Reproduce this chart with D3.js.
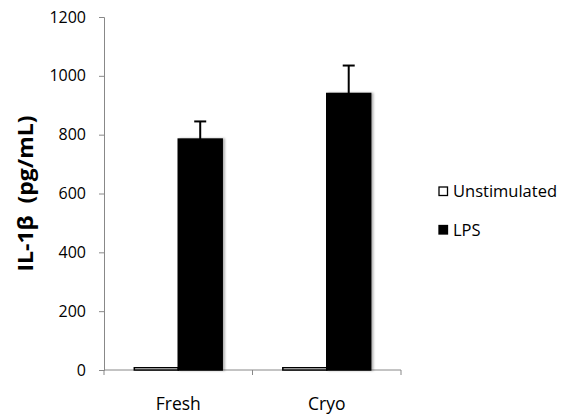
<!DOCTYPE html>
<html><head><meta charset="utf-8">
<script src="https://cdn.jsdelivr.net/npm/d3@7"></script>
<style>body{margin:0;background:#fff}svg{display:block}</style>
</head><body>
<div id="chart"></div>
<script>
const categories = ["Fresh", "Cryo"];
const seriesNames = ["Unstimulated", "LPS"];
const unstimulated = [8, 8];
const lps = [785, 940];
const lpsErr = [60, 95];
const unstimErr = [0, 0];
const yTicks = [0, 200, 400, 600, 800, 1000, 1200];

const W = 566, H = 420;
const m = {left: 104, top: 17, right: 165, bottom: 50};
const svg = d3.select("#chart").append("svg").attr("width", W).attr("height", H);
const font = "'Open Sans', 'Liberation Sans', sans-serif";

const x = d3.scaleBand().domain(categories).range([m.left, W - m.right]).paddingInner(0).paddingOuter(0);
const x1 = d3.scaleBand().domain(seriesNames).range([0, x.bandwidth()]).paddingInner(0).paddingOuter(0.69);
const y = d3.scaleLinear().domain([0, 1200]).range([H - m.bottom, m.top]);

const defs = svg.append("defs");
const f = defs.append("filter").attr("id", "sh").attr("x", "-20%").attr("y", "-20%").attr("width", "140%").attr("height", "140%");
f.append("feDropShadow").attr("dx", 2).attr("dy", 0).attr("stdDeviation", 1.2).attr("flood-color", "#000").attr("flood-opacity", 0.3);

// Y axis
const yAxis = svg.append("g").attr("transform", `translate(${m.left},0)`)
  .call(d3.axisLeft(y).tickValues(yTicks).tickFormat(d3.format("d")).tickSize(5).tickPadding(13));
yAxis.select(".domain").attr("stroke", "#888");
yAxis.selectAll(".tick line").attr("stroke", "#888");
yAxis.selectAll(".tick text").attr("font-family", font).attr("font-size", 16).attr("fill", "#000");

// X axis
const xAxis = svg.append("g").attr("transform", `translate(0,${y(0)})`);
xAxis.append("line").attr("x1", m.left).attr("x2", W - m.right).attr("stroke", "#888");
const bounds = [m.left, ...categories.map(c => x(c) + x.bandwidth())];
xAxis.selectAll(".bt").data(bounds).join("line")
  .attr("x1", d => d).attr("x2", d => d).attr("y1", 0).attr("y2", 5).attr("stroke", "#888");
xAxis.selectAll(".lbl").data(categories).join("text")
  .attr("x", d => x(d) + x.bandwidth() / 2).attr("y", 40)
  .attr("text-anchor", "middle").attr("font-family", font).attr("font-size", 17.5).text(d => d);

// Bars
const data = categories.map((c, i) => ({c, vals: [
  {s: "Unstimulated", v: unstimulated[i], e: unstimErr[i]},
  {s: "LPS", v: lps[i], e: lpsErr[i]}]}));
const fills = {Unstimulated: "#fff", LPS: "#000"};
const g = svg.append("g").selectAll("g").data(data).join("g")
  .attr("transform", d => `translate(${x(d.c)},0)`);
g.selectAll("rect").data(d => d.vals).join("rect")
  .attr("x", d => x1(d.s)).attr("width", x1.bandwidth())
  .attr("y", d => y(d.v)).attr("height", d => y(0) - y(d.v))
  .attr("fill", d => fills[d.s]).attr("stroke", "#000").attr("stroke-width", 1.5)
  .attr("filter", "url(#sh)");
// error bars
const eb = g.selectAll(".eb").data(d => d.vals.filter(v => v.e > 0)).join("g");
eb.append("line").attr("x1", d => x1(d.s) + x1.bandwidth() / 2).attr("x2", d => x1(d.s) + x1.bandwidth() / 2)
  .attr("y1", d => y(d.v)).attr("y2", d => y(d.v + d.e)).attr("stroke", "#000").attr("stroke-width", 2);
eb.append("line").attr("x1", d => x1(d.s) + x1.bandwidth() / 2 - 6).attr("x2", d => x1(d.s) + x1.bandwidth() / 2 + 6)
  .attr("y1", d => y(d.v + d.e)).attr("y2", d => y(d.v + d.e)).attr("stroke", "#000").attr("stroke-width", 2);

// Y label
svg.append("text").attr("transform", `translate(33,${(y(0) + y(1200)) / 2}) rotate(-90)`)
  .attr("text-anchor", "middle").attr("font-family", font).attr("font-size", 21.5).attr("font-weight", "bold")
  .attr("xml:space", "preserve").attr("textLength", 156).attr("lengthAdjust", "spacingAndGlyphs")
  .text("IL-1β  (pg/mL)");

// Legend
const leg = svg.append("g").selectAll("g").data(seriesNames).join("g")
  .attr("transform", (d, i) => `translate(439,${187 + i * 38.5})`);
leg.append("rect").attr("width", 8.5).attr("height", 8.5).attr("fill", d => fills[d]).attr("stroke", "#000").attr("stroke-width", 1.3);
leg.append("text").attr("x", 14).attr("y", 10).attr("font-family", font).attr("font-size", 16.5).text(d => d);
</script>
</body></html>
